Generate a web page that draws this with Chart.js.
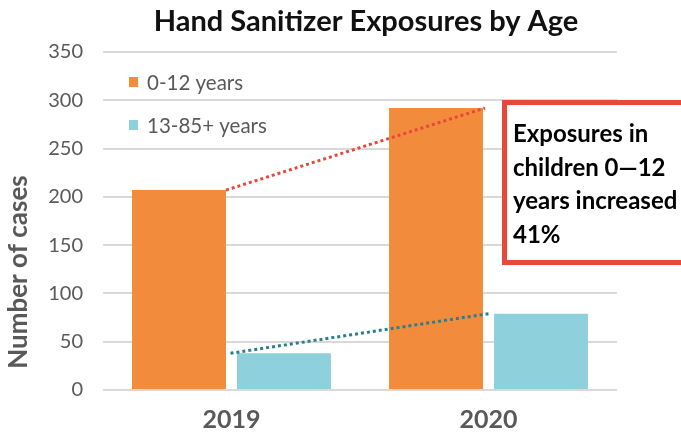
<!DOCTYPE html>
<html>
<head>
<meta charset="utf-8">
<script src="https://cdn.jsdelivr.net/npm/chart.js@4"></script>
<style>
  html,body{margin:0;padding:0;background:#fff;}
  #wrap{width:681px;height:434px;position:relative;}
</style>
</head>
<body>
<div id="wrap"><canvas id="chart" width="681" height="434"></canvas></div>
<script>
// ---- Data ----
const years = ['2019', '2020'];
const kids = [207, 292];       // 0-12 years
const older = [38, 79];        // 13-85+ years
const seriesNames = ['0-12 years', '13-85+ years'];
const yTicks = [0, 50, 100, 150, 200, 250, 300, 350];
const noteLines = ['Exposures in', 'children 0\u201412', 'years increased', '41%'];

const ORANGE = '#F38B3C', TEAL = '#8ED1DC', GREY = '#595959', RED = '#E8473C', DTEAL = '#2B7F8C';
const FONT = 'Lato, "Open Sans", sans-serif';

// title, y-axis title, legend, dotted trend lines, note box
const decor = {
  id: 'decor',
  afterDraw(chart){
    const ctx = chart.ctx;
    const m0 = chart.getDatasetMeta(0).data, m1 = chart.getDatasetMeta(1).data;
    ctx.save();

    // title
    ctx.fillStyle = '#111';
    ctx.font = `bold 29px ${FONT}`;
    ctx.textAlign = 'center'; ctx.textBaseline = 'middle';
    ctx.fillText('Hand Sanitizer Exposures by Age', 366, 22);

    // y axis title
    ctx.save();
    ctx.translate(19, 272); ctx.rotate(-Math.PI/2);
    ctx.fillStyle = GREY; ctx.font = `bold 26px ${FONT}`;
    ctx.fillText('Number of cases', 0, 0);
    ctx.restore();

    // legend
    const cols = [ORANGE, TEAL];
    ctx.textAlign = 'left';
    ctx.font = `20.5px ${FONT}`;
    [82, 125].forEach((yy, i) => {
      ctx.fillStyle = cols[i];
      ctx.fillRect(129, yy-5, 9, 10);
      ctx.fillStyle = GREY;
      ctx.fillText(seriesNames[i], 147, yy+1);
    });

    // dotted lines
    ctx.lineWidth = 3;
    ctx.setLineDash([3, 3]);
    ctx.strokeStyle = RED;
    ctx.beginPath();
    ctx.moveTo(m0[0].x + m0[0].width/2, m0[0].y);
    ctx.lineTo(m0[1].x + m0[1].width/2 + 2, m0[1].y);
    ctx.stroke();
    ctx.strokeStyle = DTEAL;
    const g0 = (m0[0].x + m0[0].width/2 + m1[0].x - m1[0].width/2)/2 - 1;
    const g1 = (m0[1].x + m0[1].width/2 + m1[1].x - m1[1].width/2)/2;
    ctx.beginPath();
    ctx.moveTo(g0, m1[0].y);
    ctx.lineTo(g1, m1[1].y);
    ctx.stroke();
    ctx.setLineDash([]);

    // note box
    ctx.fillStyle = '#fff';
    ctx.fillRect(502, 100, 200, 165);
    ctx.strokeStyle = RED; ctx.lineWidth = 5;
    ctx.strokeRect(504.5, 102.5, 200, 160);
    ctx.fillStyle = '#000';
    ctx.font = `bold 24px ${FONT}`;
    ctx.textBaseline = 'alphabetic';
    noteLines.forEach((t, i) => ctx.fillText(t, 513, 142 + i*33.5));

    ctx.restore();
  }
};

new Chart(document.getElementById('chart'), {
  type: 'bar',
  data: {
    labels: years,
    datasets: [
      { label: seriesNames[0], data: kids, backgroundColor: ORANGE },
      { label: seriesNames[1], data: older, backgroundColor: TEAL }
    ]
  },
  options: {
    responsive: false,
    animation: false,
    categoryPercentage: 0.817,
    barPercentage: 0.895,
    layout: { padding: { left: 0, right: 64, top: 52, bottom: 0 } },
    plugins: { legend: { display: false }, title: { display: false }, tooltip: { enabled: false } },
    scales: {
      x: {
        grid: { display: false, drawTicks: false },
        border: { display: false },
        ticks: { color: GREY, font: { family: FONT, size: 25, weight: 'bold' }, padding: 15 },
        afterFit(s){ s.height = 44; }
      },
      y: {
        min: 0, max: 350,
        afterBuildTicks(s){ s.ticks = yTicks.map(v => ({ value: v })); },
        grid: { color: '#D9D9D9', lineWidth: 2, drawTicks: false },
        border: { display: false },
        ticks: { color: GREY, font: { family: FONT, size: 20 }, padding: 20 },
        afterFit(s){ s.width = 103; }
      }
    }
  },
  plugins: [decor]
});
</script>
</body>
</html>
